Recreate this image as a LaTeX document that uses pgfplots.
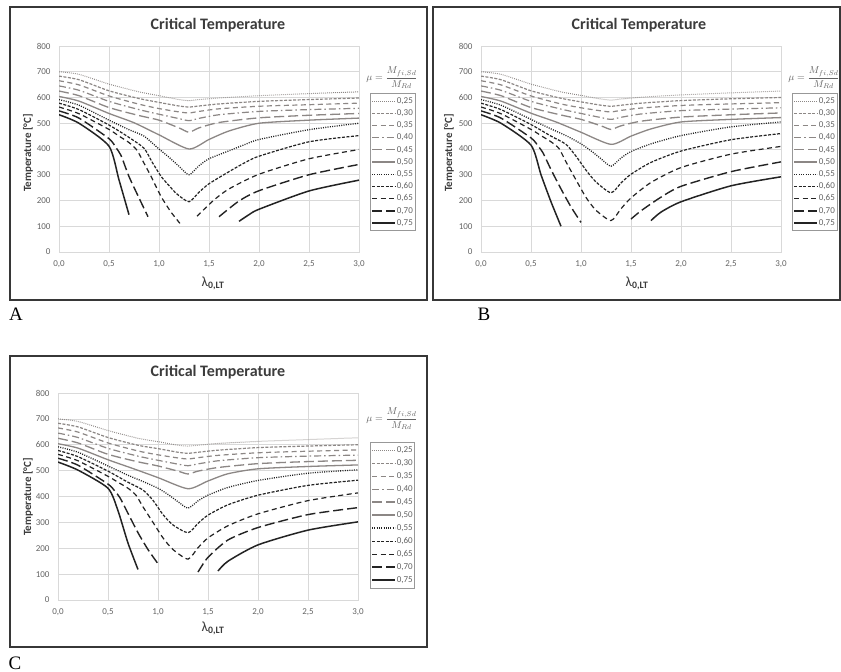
\documentclass[border=0pt]{standalone}
\usepackage{pgfplots}
\pgfplotsset{compat=1.18}
\usepackage{fontspec}
\setmainfont{Carlito}
\newfontfamily\letterfont{Liberation Serif}

\definecolor{lg}{RGB}{140,135,133}
\definecolor{dk}{RGB}{35,35,35}
\definecolor{gridc}{RGB}{217,217,217}
\definecolor{tickc}{RGB}{100,100,100}
\definecolor{framec}{RGB}{55,55,55}
\definecolor{titlec}{RGB}{60,60,60}

\tikzset{
  s25/.style={color=lg, line width=1pt, dash pattern=on 0.8pt off 1.2pt},
  s30/.style={color=lg, line width=1.2pt, dash pattern=on 3pt off 1.5pt},
  s35/.style={color=lg, line width=1.2pt, dash pattern=on 5pt off 3.5pt},
  s40/.style={color=lg, line width=1.2pt, dash pattern=on 7pt off 3pt on 1.5pt off 3pt},
  s45/.style={color=lg, line width=1.3pt, dash pattern=on 10pt off 4pt},
  s50/.style={color=lg, line width=1.3pt},
  s55/.style={color=dk, line width=1.3pt, dash pattern=on 1pt off 1.3pt},
  s60/.style={color=dk, line width=1.2pt, dash pattern=on 3pt off 1.5pt},
  s65/.style={color=dk, line width=1.2pt, dash pattern=on 5pt off 3.5pt},
  s70/.style={color=dk, line width=1.4pt, dash pattern=on 10pt off 4pt},
  s75/.style={color=dk, line width=1.5pt},
}

\pgfplotsset{
  critax/.style={
    scale only axis, width=300pt, height=206pt,
    xmin=0, xmax=3, ymin=0, ymax=800,
    xtick={0,0.5,...,3}, ytick={0,100,...,800},
    grid=major, major grid style={draw=gridc, line width=0.7pt},
    axis line style={draw=gridc, line width=0.8pt},
    major tick length=0pt,
    tick label style={font=\fontsize{9}{9}\selectfont, text=tickc},
    /pgf/number format/assume math mode=true,
    xticklabel style={yshift=-5pt, /pgf/number format/.cd, fixed, fixed zerofill, precision=1, use comma},
    yticklabel style={xshift=-5pt, /pgf/number format/.cd, fixed, precision=0},
    every axis plot/.append style={smooth, tension=0.4},
    legend style={at={(1.037,0.772)}, anchor=north west, draw=gridc!70!black,
      line width=0.6pt, fill=white, font=\fontsize{9}{9}\selectfont, text=tickc,
      inner xsep=1pt, inner ysep=2pt, row sep=0.7pt,
      nodes={inner xsep=1pt, inner ysep=1.5pt, text height=6.5pt, text depth=2pt}},
    legend image code/.code={\draw[#1, sharp plot] (0pt,0pt) -- (23pt,0pt);},
  }
}

\newcommand\mufrac{$\mu=\displaystyle\frac{M_{fi,Sd}}{M_{Rd}}$}

\begin{document}
\begin{tikzpicture}[x=1pt,y=1pt]
\fill[white] (0,0) rectangle (841,672);
\path[use as bounding box] (0,0) rectangle (841,672);

% frames
\draw[line width=1.5pt, color=framec] (10,372) rectangle (427,665);
\draw[line width=1.5pt, color=framec] (433,372) rectangle (840,665);
\draw[line width=1.5pt, color=framec] (10,25) rectangle (427,316);

% titles
\node[font=\fontsize{16}{16}\selectfont\bfseries, text=titlec] at (218,647) {Critical Temperature};
\node[font=\fontsize{16}{16}\selectfont\bfseries, text=titlec] at (639,647) {Critical Temperature};
\node[font=\fontsize{16}{16}\selectfont\bfseries, text=titlec] at (218,300) {Critical Temperature};

% y labels
\node[rotate=90, font=\fontsize{11}{11}\selectfont\bfseries, text=titlec] at (28,519) {Temperature [°C]};
\node[rotate=90, font=\fontsize{11}{11}\selectfont\bfseries, text=titlec] at (449,519) {Temperature [°C]};
\node[rotate=90, font=\fontsize{11}{11}\selectfont\bfseries, text=titlec] at (28,175) {Temperature [°C]};

% x labels
\node[font=\fontsize{14}{14}\selectfont, text=titlec] at (213,389) {λ\textsubscript{\textbf{0,LT}}};
\node[font=\fontsize{14}{14}\selectfont, text=titlec] at (637,389) {λ\textsubscript{\textbf{0,LT}}};
\node[font=\fontsize{14}{14}\selectfont, text=titlec] at (213,44) {λ\textsubscript{\textbf{0,LT}}};

% mu
\node[font=\fontsize{10}{10}\selectfont, text=tickc] at (392,594) {\mufrac};
\node[font=\fontsize{10}{10}\selectfont, text=tickc] at (814,594) {\mufrac};
\node[font=\fontsize{10}{10}\selectfont, text=tickc] at (392,253) {\mufrac};

% panel letters
\node[font=\letterfont\fontsize{19}{19}\selectfont] at (16,358) {A};
\node[font=\letterfont\fontsize{19}{19}\selectfont] at (484,358) {B};
\node[font=\letterfont\fontsize{19}{19}\selectfont] at (15,9) {C};

% ---------------- A
\begin{axis}[critax, at={(59pt,420pt)}, anchor=south west]
\addplot[s25] coordinates {(0,700)(0.2,690)(0.5,652)(0.8,622)(1.0,607)(1.2,592)(1.3,588)(1.4,592)(1.6,598)(2.0,607)(2.5,615)(3.0,622)};
\addlegendentry{0,25}
\addplot[s30] coordinates {(0,683)(0.2,669)(0.5,626)(0.8,596)(1.0,581)(1.2,567)(1.3,563)(1.4,567)(1.6,575)(2.0,585)(2.5,592)(3.0,598)};
\addlegendentry{0,30}
\addplot[s35] coordinates {(0,665)(0.2,649)(0.5,606)(0.8,574)(1.0,557)(1.2,544)(1.3,540)(1.4,546)(1.6,556)(2.0,566)(2.5,572)(3.0,578)};
\addlegendentry{0,35}
\addplot[s40] coordinates {(0,645)(0.2,628)(0.5,585)(0.8,553)(1.0,535)(1.2,518)(1.3,510)(1.4,519)(1.6,533)(2.0,546)(2.5,553)(3.0,558)};
\addlegendentry{0,40}
\addplot[s45] coordinates {(0,625)(0.2,607)(0.5,561)(0.8,530)(1.0,512)(1.2,482)(1.3,465)(1.4,482)(1.6,503)(2.0,521)(2.5,531)(3.0,538)};
\addlegendentry{0,45}
\addplot[s50] coordinates {(0,604)(0.2,586)(0.5,538)(0.75,502)(1.0,455)(1.3,400)(1.5,437)(1.7,470)(2.0,500)(2.5,512)(3.0,520)};
\addlegendentry{0,50}
\addplot[s55] coordinates {(0,592)(0.2,570)(0.5,512)(0.7,475)(0.85,450)(1.0,400)(1.1,368)(1.2,333)(1.3,300)(1.4,335)(1.5,362)(1.7,393)(1.85,416)(2.0,437)(2.5,475)(3.0,500)};
\addlegendentry{0,55}
\addplot[s60] coordinates {(0,578)(0.2,553)(0.5,493)(0.7,445)(0.85,403)(0.93,350)(1.02,294)(1.1,258)(1.18,225)(1.3,195)(1.4,232)(1.5,265)(1.7,312)(1.85,345)(2.0,372)(2.5,428)(3.0,452)};
\addlegendentry{0,60}
\addplot[s65] coordinates {(0,563)(0.2,537)(0.5,476)(0.6,450)(0.7,425)(0.78,395)(0.85,345)(0.92,294)(1.02,216)(1.12,155)(1.22,106)};
\addlegendentry{0,65}
\addplot[s70] coordinates {(0,548)(0.2,520)(0.5,440)(0.57,405)(0.62,375)(0.7,293)(0.8,210)(0.89,137)};
\addlegendentry{0,70}
\addplot[s75] coordinates {(0,533)(0.2,500)(0.5,411)(0.6,280)(0.7,145)};
\addlegendentry{0,75}
\addplot[s65, forget plot] coordinates {(1.38,139)(1.55,202)(1.7,245)(2.0,302)(2.5,362)(3.0,398)};
\addplot[s70, forget plot] coordinates {(1.6,137)(1.8,198)(2.0,238)(2.5,300)(3.0,340)};
\addplot[s75, forget plot] coordinates {(1.8,119)(1.9,145)(2.0,166)(2.5,237)(3.0,279)};
\end{axis}

% ---------------- B
\begin{axis}[critax, at={(481pt,420pt)}, anchor=south west]
\addplot[s25] coordinates {(0,700)(0.2,690)(0.5,652)(0.8,622)(1.0,608)(1.2,594)(1.3,590)(1.4,594)(1.6,601)(2.0,610)(2.5,618)(3.0,625)};
\addlegendentry{0,25}
\addplot[s30] coordinates {(0,683)(0.2,669)(0.5,626)(0.8,597)(1.0,583)(1.2,570)(1.3,566)(1.4,570)(1.6,578)(2.0,588)(2.5,595)(3.0,600)};
\addlegendentry{0,30}
\addplot[s35] coordinates {(0,665)(0.2,649)(0.5,606)(0.8,575)(1.0,560)(1.2,548)(1.3,544)(1.4,550)(1.6,559)(2.0,569)(2.5,575)(3.0,580)};
\addlegendentry{0,35}
\addplot[s40] coordinates {(0,645)(0.2,628)(0.5,585)(0.8,555)(1.0,538)(1.2,522)(1.3,515)(1.4,523)(1.6,536)(2.0,549)(2.5,555)(3.0,560)};
\addlegendentry{0,40}
\addplot[s45] coordinates {(0,625)(0.2,607)(0.5,561)(0.8,532)(1.0,515)(1.2,490)(1.3,476)(1.4,490)(1.6,508)(2.0,524)(2.5,533)(3.0,540)};
\addlegendentry{0,45}
\addplot[s50] coordinates {(0,604)(0.2,586)(0.5,539)(0.75,505)(1.0,465)(1.3,418)(1.5,450)(1.7,478)(2.0,505)(2.5,515)(3.0,522)};
\addlegendentry{0,50}
\addplot[s55] coordinates {(0,592)(0.2,570)(0.5,515)(0.7,478)(0.85,452)(1.0,420)(1.1,393)(1.2,362)(1.3,333)(1.4,365)(1.5,390)(1.7,420)(2.0,452)(2.5,486)(3.0,505)};
\addlegendentry{0,55}
\addplot[s60] coordinates {(0,578)(0.2,553)(0.5,495)(0.7,450)(0.85,418)(0.95,372)(1.05,318)(1.15,272)(1.3,230)(1.4,268)(1.5,302)(1.7,348)(2.0,392)(2.5,436)(3.0,460)};
\addlegendentry{0,60}
\addplot[s65] coordinates {(0,563)(0.2,537)(0.5,476)(0.6,452)(0.7,428)(0.78,402)(0.85,350)(0.95,280)(1.05,212)(1.15,162)(1.3,122)(1.4,168)(1.5,210)(1.7,270)(2.0,328)(2.5,380)(3.0,410)};
\addlegendentry{0,65}
\addplot[s70] coordinates {(0,548)(0.2,520)(0.5,443)(0.57,412)(0.62,385)(0.7,320)(0.8,245)(0.9,175)(1.0,115)};
\addlegendentry{0,70}
\addplot[s75] coordinates {(0,533)(0.2,500)(0.5,415)(0.6,300)(0.7,195)(0.8,100)};
\addlegendentry{0,75}
\addplot[s70, forget plot] coordinates {(1.5,128)(1.6,160)(1.8,213)(2.0,255)(2.5,312)(3.0,350)};
\addplot[s75, forget plot] coordinates {(1.7,122)(1.8,155)(2.0,195)(2.5,257)(3.0,292)};
\end{axis}

% ---------------- C
\begin{axis}[critax, at={(58pt,72pt)}, anchor=south west, height=207pt,
  legend style={at={(1.04,0.763)}, row sep=1.5pt}]
\addplot[s25] coordinates {(0,700)(0.2,690)(0.5,655)(0.8,625)(1.0,612)(1.2,598)(1.3,595)(1.4,598)(1.6,605)(2.0,613)(2.5,620)(3.0,627)};
\addlegendentry{0,25}
\addplot[s30] coordinates {(0,683)(0.2,669)(0.5,628)(0.8,598)(1.0,585)(1.2,571)(1.3,567)(1.4,571)(1.6,579)(2.0,589)(2.5,595)(3.0,600)};
\addlegendentry{0,30}
\addplot[s35] coordinates {(0,665)(0.2,649)(0.5,607)(0.8,576)(1.0,561)(1.2,549)(1.3,545)(1.4,550)(1.6,559)(2.0,569)(2.5,575)(3.0,580)};
\addlegendentry{0,35}
\addplot[s40] coordinates {(0,645)(0.2,628)(0.5,586)(0.8,556)(1.0,540)(1.2,525)(1.3,519)(1.4,526)(1.6,538)(2.0,550)(2.5,556)(3.0,560)};
\addlegendentry{0,40}
\addplot[s45] coordinates {(0,625)(0.2,607)(0.5,563)(0.8,534)(1.0,518)(1.2,498)(1.3,487)(1.4,498)(1.6,512)(2.0,527)(2.5,535)(3.0,540)};
\addlegendentry{0,45}
\addplot[s50] coordinates {(0,604)(0.2,587)(0.5,542)(0.75,508)(1.0,473)(1.3,430)(1.5,460)(1.7,488)(2.0,507)(2.5,516)(3.0,522)};
\addlegendentry{0,50}
\addplot[s55] coordinates {(0,592)(0.2,571)(0.5,518)(0.7,482)(0.85,458)(1.0,432)(1.1,408)(1.2,380)(1.3,355)(1.4,383)(1.5,405)(1.7,435)(2.0,462)(2.5,490)(3.0,503)};
\addlegendentry{0,55}
\addplot[s60] coordinates {(0,578)(0.2,554)(0.5,498)(0.7,455)(0.85,425)(0.95,385)(1.05,330)(1.15,290)(1.3,260)(1.4,296)(1.5,328)(1.7,368)(2.0,405)(2.5,443)(3.0,463)};
\addlegendentry{0,60}
\addplot[s65] coordinates {(0,563)(0.2,538)(0.5,478)(0.6,455)(0.7,432)(0.78,405)(0.85,360)(0.95,300)(1.05,240)(1.15,195)(1.3,158)(1.4,202)(1.5,240)(1.7,287)(2.0,333)(2.5,384)(3.0,414)};
\addlegendentry{0,65}
\addplot[s70] coordinates {(0,548)(0.2,521)(0.5,448)(0.57,420)(0.62,395)(0.7,335)(0.8,260)(0.9,195)(1.0,140)};
\addlegendentry{0,70}
\addplot[s75] coordinates {(0,533)(0.2,502)(0.5,432)(0.6,345)(0.7,220)(0.8,118)};
\addlegendentry{0,75}
\addplot[s70, forget plot] coordinates {(1.4,108)(1.5,165)(1.7,232)(2.0,280)(2.5,330)(3.0,357)};
\addplot[s75, forget plot] coordinates {(1.6,112)(1.7,150)(2.0,213)(2.5,270)(3.0,302)};
\end{axis}
\end{tikzpicture}
\end{document}
